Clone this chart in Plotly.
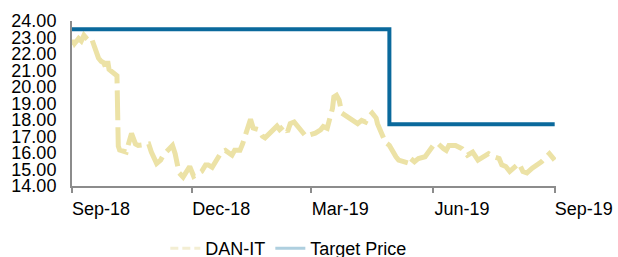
import plotly.graph_objects as go

# DAN-IT share price
dan_dates = [
    "2018-09-01", "2018-09-02", "2018-09-03", "2018-09-06", "2018-09-08", "2018-09-10",
    "2018-09-12", "2018-09-14", "2018-09-16", "2018-09-18", "2018-09-21", "2018-09-23",
    "2018-09-25", "2018-09-27", "2018-09-28", "2018-09-29", "2018-10-03", "2018-10-05",
    "2018-10-06", "2018-10-07", "2018-10-12", "2018-10-14", "2018-10-16", "2018-10-19",
    "2018-10-21", "2018-10-29", "2018-10-31", "2018-11-04", "2018-11-07", "2018-11-09",
    "2018-11-16", "2018-11-18", "2018-11-21", "2018-11-24", "2018-11-29", "2018-12-02",
    "2018-12-04", "2018-12-08", "2018-12-11", "2018-12-13", "2018-12-16", "2018-12-23",
    "2018-12-26", "2018-12-28", "2018-12-31", "2019-01-02", "2019-01-06", "2019-01-08",
    "2019-01-13", "2019-01-14", "2019-01-16", "2019-01-20", "2019-01-23", "2019-01-25",
    "2019-02-03", "2019-02-05", "2019-02-08", "2019-02-11", "2019-02-13", "2019-02-16",
    "2019-02-18", "2019-02-25", "2019-02-28", "2019-03-04", "2019-03-08", "2019-03-10",
    "2019-03-13", "2019-03-17", "2019-03-18", "2019-03-20", "2019-03-22", "2019-03-24",
    "2019-04-05", "2019-04-08", "2019-04-11", "2019-04-13", "2019-04-16", "2019-04-19",
    "2019-04-20", "2019-04-26", "2019-04-29", "2019-05-01", "2019-05-04", "2019-05-06",
    "2019-05-14", "2019-05-15", "2019-05-18", "2019-05-21", "2019-05-26", "2019-06-02",
    "2019-06-05", "2019-06-09", "2019-06-11", "2019-06-13", "2019-06-18", "2019-06-23",
    "2019-06-27", "2019-07-01", "2019-07-05", "2019-07-13", "2019-07-17", "2019-07-21",
    "2019-07-23", "2019-07-26", "2019-07-29", "2019-08-05", "2019-08-08", "2019-08-11",
    "2019-08-15", "2019-08-22", "2019-08-24", "2019-08-28", "2019-08-30", "2019-09-01",
]
dan_values = [
    22.54, 22.84, 22.64, 22.94, 22.79, 23.13,
    22.94, 22.79, 22.89, 22.45, 21.76, 21.56,
    21.47, 21.07, 21.56, 21.07, 20.82, 20.68,
    16.42, 16.18, 16.06, 16.65, 17.19, 16.55,
    16.46, 16.55, 16.06, 15.37, 15.57, 15.87,
    16.46, 15.96, 14.79, 14.54, 15.18, 14.59,
    14.69, 14.88, 15.28, 15.28, 15.13, 16.06,
    16.16, 16.06, 15.87, 16.16, 16.16, 16.55,
    17.96, 18.05, 17.51, 17.42, 17.02, 16.92,
    17.63, 17.42, 17.63, 17.29, 17.78, 17.88,
    17.68, 17.00, 17.10, 17.20, 17.40, 17.60,
    17.50, 18.71, 19.40, 19.50, 19.20, 18.42,
    17.78, 17.98, 17.88, 18.17, 18.42, 18.12,
    17.78, 16.65, 16.46, 16.16, 15.77, 15.57,
    15.37, 15.67, 15.47, 15.67, 15.77, 16.55,
    16.55, 16.26, 16.16, 16.46, 16.46, 16.26,
    15.87, 16.06, 15.57, 15.96, 15.77, 15.67,
    15.28, 15.18, 14.88, 15.37, 14.88, 14.79,
    15.08, 15.47, 15.67, 15.96, 15.77, 15.57,
]

# Target price (step line)
target_dates = ["2018-09-01", "2019-04-29", "2019-09-01"]
target_values = [23.5, 17.75, 17.75]

x_range = ["2018-09-01", "2019-09-02"]
y_range = [14, 24]

FONT = "Liberation Sans, Arial, sans-serif"
DAN_COLOR = "#ece2a6"
TP_COLOR = "#0a699c"

fig = go.Figure()
fig.add_trace(go.Scatter(
    x=dan_dates, y=dan_values, mode="lines", name="DAN-IT", showlegend=False,
    line=dict(color=DAN_COLOR, width=5, dash="30px,7px"),
))
fig.add_trace(go.Scatter(
    x=target_dates, y=target_values, mode="lines", name="Target Price", showlegend=False,
    line=dict(color=TP_COLOR, width=4, shape="hv"),
))
# legend entries (as drawn in the reference legend)
fig.add_trace(go.Scatter(
    x=[None], y=[None], mode="lines", name="DAN-IT",
    line=dict(color="#f3eed3", width=3, dash="8px,4px"),
))
fig.add_trace(go.Scatter(
    x=[None], y=[None], mode="lines", name="Target Price",
    line=dict(color="#aecfdf", width=3),
))

fig.update_layout(
    width=618, height=257,
    margin=dict(l=72, r=62, t=21, b=71, autoexpand=False),
    paper_bgcolor="white", plot_bgcolor="white",
    font=dict(family=FONT, size=18, color="black"),
    showlegend=True,
    legend=dict(orientation="h", x=0.448, xanchor="center",
                yref="container", y=0.105, yanchor="top",
                font=dict(size=18), bgcolor="rgba(0,0,0,0)", itemwidth=30),
)
fig.update_xaxes(
    range=x_range, type="date", automargin=False,
    tick0="2018-09-01", dtick="M3", tickformat="%b-%y",
    showgrid=False, zeroline=False,
    showline=True, linecolor="#8c8c8c", linewidth=1.5,
    ticks="outside", ticklen=5, tickcolor="#8c8c8c", tickwidth=1.5,
    ticklabelshift=29, ticklabelstandoff=1,
)
fig.update_yaxes(
    range=y_range, dtick=1, tickformat=".2f", automargin=False,
    showgrid=False, zeroline=False,
    showline=True, linecolor="#8c8c8c", linewidth=2,
    ticks="", ticklabelstandoff=10,
)

fig.write_html("out.html", config={"displayModeBar": False},
               post_script="document.body.style.margin='0px';")
